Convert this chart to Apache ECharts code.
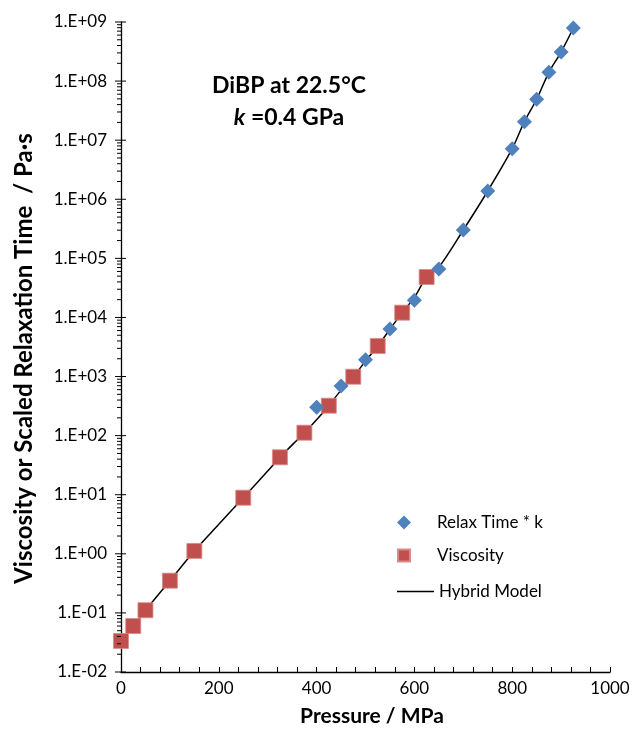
<!DOCTYPE html>
<html lang="en">
  <head>
    <meta charset="UTF-8" />
    <title>DiBP viscosity</title>
    <style>
      html, body { margin: 0; padding: 0; background: #fff; }
      #app { width: 642px; height: 729px; }
    </style>
  </head>
  <body>
    <div id="app"></div>
    <script src="https://cdn.jsdelivr.net/npm/echarts@6/dist/echarts.min.js"></script>
    <script>
      // relaxation time * k (blue diamonds)
      var relaxP = [400, 450, 500, 550, 600, 650, 700, 750, 800, 825, 850, 875, 900, 925]
      var relaxV = [302, 691, 1930, 6380, 19500, 66000, 302000, 1.38e6, 7.18e6, 2.06e7, 4.92e7, 1.41e8, 3.1e8, 7.9e8]

      // viscosity (red squares)
      var viscP = [0, 25, 50, 100, 150, 250, 325, 375, 425, 475, 525, 575, 625]
      var viscV = [0.0335, 0.060, 0.111, 0.351, 1.12, 8.9, 43, 112, 321, 993, 3290, 12050, 48400]

      // hybrid model line (log10 values)
      var modelP = [0, 25, 50, 100, 150, 200, 250, 300, 325, 375, 400, 425, 450, 475, 500, 525, 550, 575, 600, 625, 650, 700, 750, 800, 825, 850, 875, 900, 925]
      var modelLog = [-1.475, -1.222, -0.956, -0.455, 0.048, 0.50, 0.95, 1.40, 1.633, 2.05, 2.27, 2.507, 2.77, 2.997, 3.26, 3.517, 3.80, 4.081, 4.34, 4.685, 4.85, 5.48, 6.14, 6.856, 7.313, 7.692, 8.149, 8.492, 8.898]

      var yMinExp = -2
      var yMaxExp = 9

      var font = 'Lato, "Open Sans", sans-serif'

      function expLabel(v) {
        var e = Math.round(Math.log10(v))
        var s = e < 0 ? '-' : '+'
        var a = Math.abs(e)
        return '1.E' + s + (a < 10 ? '0' + a : a)
      }

      function pairs(xs, ys) {
        return xs.map(function (x, i) { return [x, ys[i]] })
      }

      // y tick marks: minor ones (2..9 per decade) stick out left, major ones also poke into the plot
      var yTicks = []
      for (var e = yMinExp; e <= yMaxExp; e++) {
        yTicks.push([0, Math.pow(10, e), 1])
        if (e === yMaxExp) break
        for (var k = 2; k <= 9; k++) yTicks.push([0, k * Math.pow(10, e), 0])
      }

      var legendText = { fontFamily: font, fontSize: 17, color: '#000' }

      var chart = echarts.init(document.getElementById('app'))
      chart.setOption({
        animation: false,
        textStyle: { fontFamily: font },
        title: {
          text: 'DiBP at 22.5°C\n{i|k} =0.4 GPa',
          left: 284,
          top: 65,
          textAlign: 'center',
          textStyle: {
            fontFamily: font,
            fontSize: 23,
            fontWeight: 'bold',
            color: '#000',
            lineHeight: 32,
            rich: {
              i: { fontFamily: font, fontSize: 23, fontWeight: 'bold', fontStyle: 'italic', color: '#000' }
            }
          }
        },
        legend: [
          {
            data: [{ name: 'Relax Time * k', icon: 'diamond' }],
            left: 392, top: 509, itemWidth: 14, itemHeight: 14, itemGap: 0,
            textStyle: Object.assign({ padding: [0, 0, 0, 21] }, legendText)
          },
          {
            data: [{ name: 'Viscosity', icon: 'rect' }],
            left: 392, top: 542, itemWidth: 12, itemHeight: 12, itemGap: 0,
            textStyle: Object.assign({ padding: [0, 0, 0, 22] }, legendText)
          },
          {
            data: [{ name: 'Hybrid Model', icon: 'rect' }],
            left: 392, top: 578, itemWidth: 37, itemHeight: 1.6, itemGap: 0,
            textStyle: Object.assign({ padding: [0, 0, 0, 0] }, legendText)
          }
        ],
        grid: { left: 121, right: 32, top: 22, bottom: 57, outerBoundsMode: 'none', containLabel: false },
        xAxis: {
          type: 'value',
          min: 0,
          max: 1000,
          interval: 200,
          name: 'Pressure / MPa',
          nameLocation: 'middle',
          nameGap: 34,
          nameTextStyle: { fontFamily: font, fontSize: 21, fontWeight: 'bold', color: '#000', padding: [0, 0, 0, 13] },
          axisLine: { onZero: false, lineStyle: { color: '#000', width: 1.3 } },
          axisTick: { inside: true, length: 5, lineStyle: { color: '#000' } },
          minorTick: { show: true, splitNumber: 5, length: 5, lineStyle: { color: '#000' } },
          axisLabel: {
            fontFamily: font, fontSize: 17, color: '#000', margin: 8,
            formatter: function (v) { return String(v) }
          },
          splitLine: { show: false }
        },
        yAxis: {
          type: 'log',
          logBase: 10,
          min: Math.pow(10, yMinExp),
          max: Math.pow(10, yMaxExp),
          interval: 1,
          name: 'Viscosity or Scaled Relaxation Time  / Pa·s',
          nameLocation: 'middle',
          nameGap: 85,
          nameTextStyle: { fontFamily: font, fontSize: 24, fontWeight: 'bold', color: '#000', padding: [0, 23, 0, 0] },
          axisLine: { show: true, lineStyle: { color: '#000', width: 1.3 } },
          axisTick: { show: false },
          axisLabel: { fontFamily: font, fontSize: 17, color: '#000', margin: 14, formatter: expLabel },
          splitLine: { show: false }
        },
        series: [
          {
            name: 'Hybrid Model',
            type: 'line',
            smooth: 0.3,
            symbol: 'none',
            z: 1,
            lineStyle: { color: '#000', width: 1.5 },
            itemStyle: { color: '#000' },
            data: modelP.map(function (p, i) { return [p, Math.pow(10, modelLog[i])] })
          },
          {
            name: 'Viscosity',
            type: 'scatter',
            symbol: 'rect',
            symbolSize: 15,
            z: 3,
            itemStyle: { color: '#C0504D', borderColor: '#D98A86', borderWidth: 0.8, opacity: 1 },
            data: pairs(viscP, viscV)
          },
          {
            name: 'Relax Time * k',
            type: 'scatter',
            symbol: 'diamond',
            symbolSize: 15,
            z: 4,
            itemStyle: { color: '#4F81BD', opacity: 1 },
            data: pairs(relaxP, relaxV)
          },
          {
            type: 'custom',
            silent: true,
            z: 5,
            clip: false,
            renderItem: function (params, api) {
              var pt = api.coord([api.value(0), api.value(1)])
              var major = api.value(2) === 1
              return {
                type: 'line',
                shape: { x1: pt[0] - (major ? 6 : 4), y1: pt[1], x2: pt[0] + (major ? 5 : 0), y2: pt[1] },
                style: { stroke: '#000', lineWidth: 1 }
              }
            },
            data: yTicks
          }
        ]
      })
    </script>
  </body>
</html>
